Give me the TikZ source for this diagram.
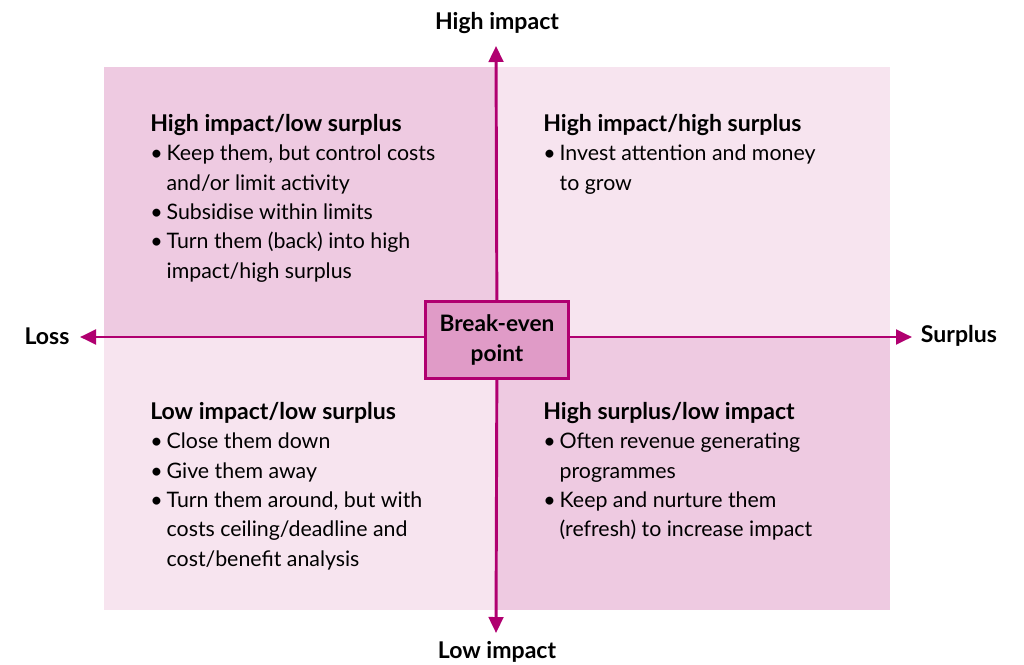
\documentclass[tikz,border=0pt]{standalone}
\usepackage{fontspec}
\setmainfont{Lato}
\usetikzlibrary{arrows.meta}
\definecolor{quaddark}{RGB}{238,202,225}
\definecolor{quadlight}{RGB}{247,228,239}
\definecolor{axiscol}{RGB}{176,0,112}
\definecolor{boxfill}{RGB}{224,155,199}
\tikzset{
  axis/.style={draw=axiscol, line width=2.2pt, -{Triangle[length=12pt,width=11pt]}},
  axislabel/.style={font=\fontsize{17.3}{20}\selectfont\bfseries, inner sep=0pt},
  quadtext/.style={anchor=north west, align=left, inner sep=0pt,
    font=\fontsize{16}{22}\selectfont},
  centrebox/.style={draw=axiscol, line width=2pt, fill=boxfill, align=center,
    minimum width=107pt, minimum height=58pt, inner sep=0pt,
    font=\fontsize{17}{22}\selectfont\bfseries}
}
\newcommand{\bul}{\textbullet\hspace{3pt}}
\newcommand{\ind}{\hphantom{\textbullet\hspace{3pt}}}
\newcommand{\qhead}[1]{{\fontsize{17.3}{22}\selectfont\bfseries #1}}
\begin{document}
\begin{tikzpicture}[x=0.75pt, y=-0.75pt]
\useasboundingbox (0,0) rectangle (1024,664);
% quadrant backgrounds
\fill[quaddark]  (104,67)  rectangle (496,337);
\fill[quadlight] (496,67)  rectangle (890,337);
\fill[quadlight] (104,337) rectangle (496,610);
\fill[quaddark]  (496,337) rectangle (890,610);

% axis labels
\node[axislabel] (hi)   at (497,23)  {High impact};
\node[axislabel] (lo)   at (497,652) {Low impact};
\node[axislabel] (loss) at (47,336)  {Loss};
\node[axislabel] (surp) at (959,336) {Surplus};

% arrow end points
\coordinate (topend)   at (496,46);
\coordinate (botend)   at (496,633);
\coordinate (leftend)  at (80,337);
\coordinate (rightend) at (912,337);
\coordinate (origin)   at (497,337);

\draw[axis] (origin) -- (topend);
\draw[axis] (origin) -- (botend);
\draw[axis] (origin) -- (leftend);
\draw[axis] (origin) -- (rightend);

% centre box
\node[centrebox] (be) at (497,340) {Break-even\\point};

% quadrant texts
\node[quadtext] (tl) at (150,114) {\qhead{High impact/low surplus}\\
\bul Keep them, but control costs\\
\ind and/or limit activity\\
\bul Subsidise within limits\\
\bul Turn them (back) into high\\
\ind impact/high surplus};

\node[quadtext] (tr) at (543,114) {\qhead{High impact/high surplus}\\
\bul Invest attention and money\\
\ind to grow};

\node[quadtext] (bl) at (150,402) {\qhead{Low impact/low surplus}\\
\bul Close them down\\
\bul Give them away\\
\bul Turn them around, but with\\
\ind costs ceiling/deadline and\\
\ind cost/benefit analysis};

\node[quadtext] (br) at (543,402) {\qhead{High surplus/low impact}\\
\bul Often revenue generating\\
\ind programmes\\
\bul Keep and nurture them\\
\ind (refresh) to increase impact};
\end{tikzpicture}
\end{document}
